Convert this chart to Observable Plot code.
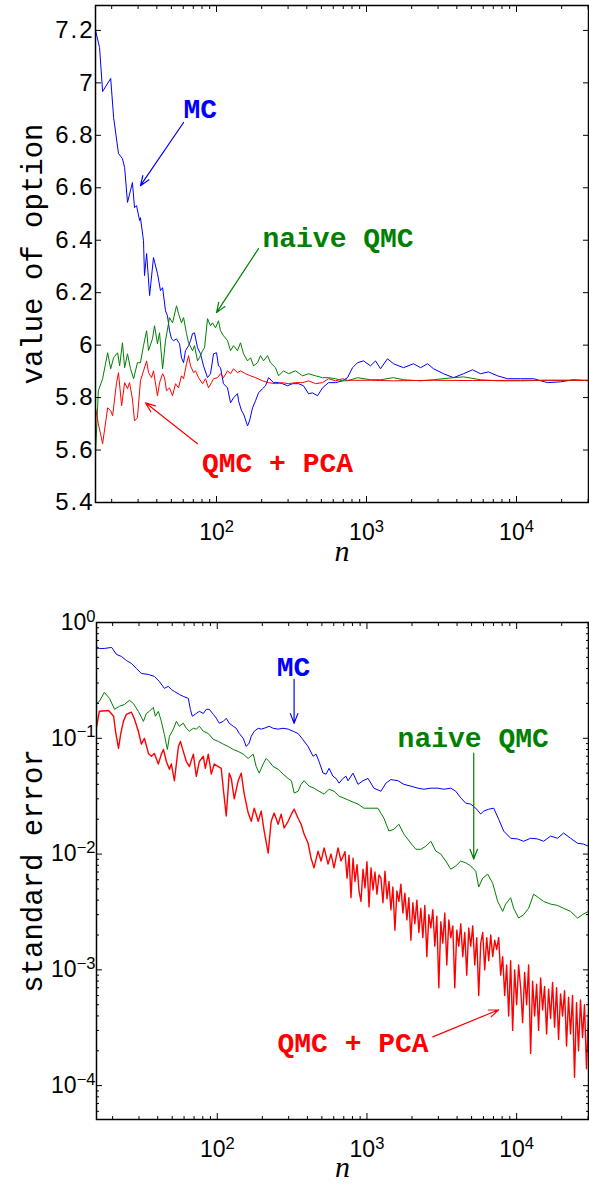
<!DOCTYPE html>
<html><head><meta charset="utf-8">
<script src="https://cdn.jsdelivr.net/npm/d3@7"></script>
<script src="https://cdn.jsdelivr.net/npm/@observablehq/plot@0.6"></script>
<style>
body{margin:0;background:#fff}
#chart{width:589px}
#chart svg{display:block}
</style>
</head><body><div id="chart"></div>
<script>
// ---------- top panel: value of option ----------
const nMcTop = [15.6,16.6,17.4,19.7,20.6,22.2,23.6,24.4,25.5,27.5,28.4,29.3,30.7,31.1,32.6,33.1,34.2,35.8,38.0,40.4,42.3,43.7,45.7,47.1,48.6,50.1,51.7,54.1,56.7,58.4,60.3,62.1,65.1,67.1,69.2,71.3,74.7,78.2,81.9,87.1,91.2,95.5,100,103.1,106.3,111.3,118.4,124.0,129.8,138.0,140.2,146.8,151.4,161.0,166.0,173.8,182.0,190.5,202.6,212.2,222.2,239.9,259.1,275.4,297.4,321.1,352.1,380.2,410.6,436.5,471.4,509.1,558.1,621.5,691.8,746.8,806.9,871,955,1063,1148,1240,1380,1514,1765,2057,2291,2551,2797,3262,3802,4433,5090,5754,6507,7471,8710,10634,12983,16098,19650,23988,30200];
const vMcTop = [7.2,7.135,6.967,7.017,6.868,6.731,6.711,6.677,6.544,6.620,6.524,6.532,6.475,6.486,6.398,6.265,6.349,6.189,6.334,6.273,6.208,6.219,6.131,6.112,6.055,6.024,6.017,6.024,6.005,5.952,5.933,5.979,5.998,6.017,6.044,6.047,5.990,5.967,5.921,5.876,5.891,5.967,5.971,5.921,5.914,5.853,5.837,5.780,5.799,5.815,5.788,5.750,5.738,5.692,5.711,5.761,5.788,5.818,5.834,5.845,5.876,5.857,5.857,5.853,5.845,5.853,5.853,5.845,5.815,5.818,5.807,5.837,5.857,5.857,5.864,5.876,5.914,5.933,5.940,5.921,5.940,5.910,5.948,5.929,5.914,5.929,5.914,5.929,5.910,5.891,5.876,5.891,5.906,5.891,5.898,5.883,5.872,5.872,5.872,5.857,5.860,5.868,5.864];

const nQmcTop = [15.6,16.3,17.4,18.8,19.7,20.6,21.9,22.6,23.6,24.4,25.5,26.7,28.0,29.7,31.1,32.6,34.2,35.2,37.4,38.6,40.4,41.7,43.7,45.7,48.6,50.9,54.1,55.8,58.4,60.3,63.1,65.1,69.2,71.3,74.7,77.0,80.7,83.2,87.1,91.2,94.0,98.5,103.1,106.3,111.3,118.4,124.0,129.8,138.0,144.5,151.4,161.0,168.6,176.6,187.7,196.5,205.8,218.8,229.1,247.4,259.1,279.7,302.0,336.3,374.5,410.6,457.1,509.1,558.1,621.5,691.8,746.8,871,1063,1240,1514,1765,2291,2797,3802,4433,5754,7471,10634,16098,30200];
const vQmcTop = [5.585,5.826,5.872,5.971,5.910,5.952,5.971,5.921,6.009,5.914,5.967,5.910,5.872,5.933,5.933,5.998,6.055,5.979,6.024,6.074,6.005,6.047,5.910,6.017,6.105,6.085,6.150,6.120,6.085,6.105,6.044,6.009,5.979,5.998,5.940,5.952,5.979,5.990,6.101,6.074,6.085,6.066,6.093,6.055,6.036,6.017,5.979,5.998,5.979,6.009,5.967,5.940,5.952,5.921,5.933,5.960,5.940,5.960,5.933,5.914,5.883,5.902,5.891,5.902,5.883,5.891,5.883,5.876,5.876,5.872,5.864,5.864,5.876,5.868,5.868,5.876,5.868,5.864,5.868,5.876,5.879,5.868,5.864,5.864,5.866,5.866];

const nPcaTop = [15.6,16.3,17.4,18.8,19.7,20.3,21.5,22.2,23.3,24.4,25.5,26.3,27.5,28.4,29.7,31.1,32.6,34.2,35.2,36.9,38.0,40.4,41.7,43.7,45.0,46.4,48.6,50.9,53.3,55.8,58.4,60.3,63.1,65.1,67.1,70.3,72.4,75.9,80.7,84.5,88.4,92.6,95.5,101.6,106.3,111.3,118.4,124.0,129.8,138.0,144.5,156.1,168.6,182.0,202.6,222.2,247.4,275.4,302.0,336.3,374.5,410.6,457.1,509.1,558.1,621.5,691.8,746.8,1063,1514,2797,5090,10634,30200];
const vPcaTop = [5.761,5.700,5.624,5.761,5.750,5.731,5.853,5.895,5.769,5.857,5.834,5.857,5.795,5.711,5.723,5.864,5.902,5.940,5.895,5.876,5.902,5.807,5.857,5.891,5.876,5.826,5.837,5.807,5.853,5.837,5.883,5.872,5.929,5.960,5.921,5.895,5.902,5.876,5.853,5.872,5.837,5.857,5.872,5.876,5.891,5.876,5.902,5.891,5.910,5.895,5.902,5.891,5.883,5.876,5.864,5.857,5.853,5.857,5.853,5.857,5.857,5.864,5.853,5.857,5.872,5.864,5.872,5.866,5.866,5.864,5.866,5.865,5.866,5.866];

// ---------- bottom panel: standard error ----------
const nMcBot = [15.6,16.3,17.6,19.7,21.2,22.9,24.7,26.7,28.8,31.1,34.7,38.0,41.0,44.3,47.1,49.3,51.7,55.8,59.3,64.1,66.1,68.1,72.4,75.9,80.7,84.5,88.4,94.0,98.5,103.1,109.6,114.8,120.2,127.9,133.9,140.2,149.0,156.1,163.4,168.6,176.6,187.7,196.5,205.8,222.2,236.2,255.0,275.4,297.4,321.1,346.7,372,404.3,436.5,457.1,478.6,509.1,533,558.1,593,621.5,651,691.8,724,747,807,871,940,1016,1114,1240,1339,1445,1610,1765,1965,2188,2399,2672,2974,3262,3631,3920,4233,4571,4934,5330,5754,6026,6500,7028,7586,8192,9120,10155,11134,12397,13804,15136,16860,18770,20580,22910,25510,27970,30200];
const seMcBot = [0.621,0.597,0.597,0.609,0.530,0.509,0.470,0.443,0.401,0.363,0.356,0.342,0.310,0.270,0.281,0.264,0.254,0.239,0.230,0.221,0.178,0.155,0.164,0.171,0.164,0.178,0.178,0.161,0.149,0.135,0.140,0.149,0.135,0.127,0.122,0.110,0.100,0.085,0.091,0.104,0.115,0.122,0.120,0.122,0.127,0.122,0.120,0.122,0.120,0.115,0.110,0.098,0.085,0.070,0.073,0.063,0.050,0.049,0.055,0.047,0.045,0.041,0.045,0.047,0.043,0.050,0.040,0.043,0.045,0.037,0.0349,0.041,0.044,0.043,0.040,0.0386,0.0371,0.0363,0.0371,0.0371,0.0363,0.0371,0.0349,0.0306,0.0275,0.0270,0.0249,0.0222,0.0235,0.0244,0.0249,0.0200,0.0158,0.0137,0.0135,0.0129,0.0137,0.0135,0.0129,0.0143,0.0137,0.0152,0.0137,0.0124,0.0122,0.0117];

const nQmcBot = [15.6,16.3,17.6,19.05,20.6,22.2,24.0,25.9,27.5,29.7,32.1,33.6,35.2,37.4,38.6,40.4,42.3,44.3,46.4,47.9,50.9,53.3,55.8,59.3,62.1,65.1,69.2,72.4,75.9,80.7,87.1,94.0,101.6,109.6,118.4,127.9,138.0,149.0,161.0,173.8,182.0,190.5,202.6,212.2,222.2,236.2,255.0,275.4,297.4,312.6,326.6,346.7,363.1,380.2,410.6,442.6,478.6,517.6,558.1,602.6,651.3,702.5,782,871,955,1063,1183,1298,1402,1514,1634,1765,1965,2122,2291,2474,2672,2884,3114,3362,3631,3920,4233,4571,4934,5330,5580,5934,6408,6918,7471,8069,8446,9120,9550,10311,11134,12023,12983,14020,15136,16860,18770,20580,22910,25510,27542,30200];
const seQmcBot = [0.200,0.208,0.249,0.221,0.178,0.189,0.196,0.213,0.200,0.171,0.140,0.164,0.171,0.185,0.155,0.171,0.140,0.108,0.080,0.104,0.120,0.140,0.127,0.135,0.122,0.115,0.122,0.120,0.127,0.115,0.110,0.098,0.094,0.089,0.085,0.080,0.077,0.073,0.067,0.073,0.057,0.050,0.060,0.067,0.063,0.057,0.054,0.049,0.045,0.043,0.0336,0.0349,0.040,0.043,0.0386,0.0371,0.0349,0.0329,0.0363,0.0349,0.0316,0.0304,0.0286,0.0270,0.0249,0.0249,0.0249,0.0204,0.0158,0.0164,0.0181,0.0149,0.0124,0.0110,0.0110,0.0117,0.0129,0.0106,0.0100,0.0087,0.0074,0.0079,0.0087,0.0084,0.0079,0.0071,0.0052,0.0062,0.0067,0.0056,0.0039,0.0032,0.0037,0.0042,0.0034,0.0028,0.0030,0.0034,0.0045,0.0042,0.0039,0.0037,0.0036,0.0034,0.0032,0.0028,0.0030,0.0032];

const nPcaBotA = [15.6,16.3,18.8,20.3,20.9,21.9,22.6,23.6,24.7,26.7,28.0,29.7,31.1,32.6,34.7,36.3,38.0,40.4,42.3,43.7,45.7,47.9,49.3,51.7,55.0,56.7,59.3,62.1,65.1,69.2,72.4,75.9,80.7,83.2,87.1,91.2,95.5,101.6,106.3,109.6,114.8,120.2,124.0,129.8,138.0,144.5,151.4,161.0,168.6,176.6,187.7,196.5,205.8,218.8,229.1,239.9,255.0,267.1,279.7,297.4,312.6,326.6,346.7,363.1,380.2,404.3,423.2,442.6,471.4,493.4,517.6,549.5,575.4,602.6,640.9,671.0,702.5];
const sePcaBotA = [0.124,0.171,0.174,0.155,0.115,0.082,0.108,0.140,0.161,0.168,0.146,0.115,0.089,0.100,0.074,0.070,0.074,0.060,0.073,0.080,0.063,0.054,0.060,0.043,0.085,0.094,0.077,0.063,0.057,0.073,0.047,0.063,0.070,0.055,0.073,0.049,0.060,0.057,0.055,0.037,0.0213,0.050,0.045,0.030,0.043,0.050,0.0329,0.0226,0.0192,0.0249,0.0192,0.0235,0.0158,0.0102,0.0192,0.0226,0.0181,0.0221,0.0168,0.0192,0.0221,0.0244,0.0204,0.0181,0.0149,0.0124,0.0092,0.0076,0.0106,0.0087,0.0113,0.0082,0.0100,0.0076,0.0113,0.0087,0.0100];
const nPcaBotB = [713,736,759,782,807,832,858,885,912,941,970,1000,1032,1064,1097,1131,1166,1203,1240,1279,1319,1361,1403,1445,1490,1537,1585,1634,1685,1738,1792,1848,1905,1965,2026,2089,2155,2222,2291,2363,2436,2512,2591,2672,2754,2840,2929,3020,3114,3211,3311,3415,3522,3631,3745,3861,3981,4105,4233,4365,4502,4642,4786,4934,5088,5248,5411,5580,5754,5934,6119,6310,6507,6710,6918,7134,7356,7586,7822,8066,8318,8577,8845,9120,9404,9698,10000,10312,10634,10965,11307,11659,12023,12397,12784,13183,13594,14018,14454,14905,15370,15849,16343,16853,17378,17920,18478,19055,19649,20261,20893,21544,22216,22909,23623,24360,25119,25902,26710,27542,28401,29286,30200];
const sePcaBotB = [0.0105,0.0062,0.0098,0.0042,0.0092,0.0058,0.0081,0.0048,0.0039,0.0074,0.0051,0.0086,0.0035,0.0076,0.0049,0.0070,0.0045,0.0066,0.0062,0.0038,0.0071,0.0041,0.0058,0.0033,0.0052,0.0022,0.0048,0.0039,0.0055,
0.0031,0.0046,0.0027,0.0042,0.0018,0.0038,0.0025,0.0040,0.0021,0.0034,0.0019,0.0036,0.0013,0.0030,0.0023,0.0033,0.0016,0.0029,0.0007,0.0026,0.0017,0.0031,0.0011,0.0027,0.0019,0.0024,0.0007,0.0022,0.0016,0.0025,0.0013,0.0021,0.0009,0.0023,0.0016,0.0024,0.0011,0.0019,0.0006,0.0017,0.0021,0.0010,0.0019,0.0012,0.0020,0.0013,0.0018,0.0015,0.0019,0.0009,
0.0013,0.0006,0.0011,0.0004,0.0012,0.0003,0.0010,0.0005,0.0011,0.0007,0.00035,0.00095,0.0005,0.0011,0.00019,
0.0008,0.0004,0.00075,0.0003,0.00085,0.00045,0.00072,0.00028,0.00068,0.00038,0.00078,0.00032,0.0007,0.00025,0.00062,0.0004,0.00066,0.00022,0.00058,0.00028,0.0006,0.000118,0.00052,0.0002,0.00055,0.00026,0.0005,0.00014,0.00042];

// ---------- ticks ----------
const xMajor = [100, 1000, 10000];
const xMinor = [20,30,40,50,60,70,80,90,200,300,400,500,600,700,800,900,2000,3000,4000,5000,6000,7000,8000,9000,20000,30000];
const yTicksTop = [5.4,5.6,5.8,6,6.2,6.4,6.6,6.8,7,7.2];
const yMajorBot = [1e-4,1e-3,1e-2,1e-1,1];
const yMinorBot = [6e-5,7e-5,8e-5,9e-5,2e-4,3e-4,4e-4,5e-4,6e-4,7e-4,8e-4,9e-4,2e-3,3e-3,4e-3,5e-3,6e-3,7e-3,8e-3,9e-3,2e-2,3e-2,4e-2,5e-2,6e-2,7e-2,8e-2,9e-2,0.2,0.3,0.4,0.5,0.6,0.7,0.8,0.9];

// ---------- annotations ----------
const annLabels = ["MC", "naive QMC", "QMC + PCA"];
const annColors = ["#0000ff", "#008000", "#ff0000"];
const annTopN = [78, 646, 255];
const annTopV = [6.902, 6.41, 5.551];
const arrTopN1 = [60.3, 190.5, 74.7], arrTopV1 = [6.849, 6.368, 5.624];
const arrTopN2 = [31.1, 100, 33.6],  arrTopV2 = [6.608, 6.124, 5.78];
const annBotN = [323.6, 5128, 807];
const annBotSe = [0.409, 0.1, 0.000235];
const arrBotN1 = [326, 5168, 2754], arrBotSe1 = [0.323, 0.0743, 0.000264];
const arrBotN2 = [326, 5168, 7586], arrBotSe2 = [0.1346, 0.00906, 0.000452];

const zip = (ns, vs) => ns.map((n, i) => ({n, v: vs[i]}));
const mcTop = zip(nMcTop, vMcTop), qmcTop = zip(nQmcTop, vQmcTop), pcaTop = zip(nPcaTop, vPcaTop);
const mcBot = zip(nMcBot, seMcBot), qmcBot = zip(nQmcBot, seQmcBot);
const pcaBot = zip(nPcaBotA.concat(nPcaBotB), sePcaBotA.concat(sePcaBotB));
const annTop = annLabels.map((t, i) => ({t, c: annColors[i], n: annTopN[i], v: annTopV[i], n1: arrTopN1[i], v1: arrTopV1[i], n2: arrTopN2[i], v2: arrTopV2[i]}));
const annBot = annLabels.map((t, i) => ({t, c: annColors[i], n: annBotN[i], v: annBotSe[i], n1: arrBotN1[i], v1: arrBotSe1[i], n2: arrBotN2[i], v2: arrBotSe2[i]}));

const COL = {mc: "#0000ff", qmc: "#008000", pca: "#ff0000"};
const SANS = "'Liberation Sans', Arial, Helvetica, sans-serif";
const MONO = "'Liberation Mono', 'DejaVu Sans Mono', monospace";
const SERIF = "'Liberation Serif', 'DejaVu Serif', serif";
const logFmt = d => "10^" + String(Math.round(Math.log10(d))).replace("-", "\u2212");

function annotations(ann) {
  const out = [];
  ann.forEach(a => {
    out.push(Plot.arrow([a], {x1: "n1", y1: "v1", x2: "n2", y2: "v2", stroke: a.c, strokeWidth: 1.2, headLength: 13, headAngle: 42}));
    out.push(Plot.text([a], {x: "n", y: "v", text: "t", fill: a.c, fontFamily: MONO, fontWeight: "bold", fontSize: 28}));
  });
  return out;
}

function xAxes() {
  return [
    Plot.axisX({ticks: xMajor, anchor: "bottom", tickSize: -6, tickFormat: () => "", label: null}),
    Plot.axisX({ticks: xMinor, anchor: "bottom", tickSize: -3, tickFormat: () => "", label: null}),
    Plot.axisX({ticks: xMajor, anchor: "top", tickSize: -6, tickFormat: () => "", label: null}),
    Plot.axisX({ticks: xMinor, anchor: "top", tickSize: -3, tickFormat: () => "", label: null}),
    Plot.axisX({ticks: xMajor, anchor: "bottom", tickSize: 0, tickPadding: 21, tickFormat: logFmt, label: null, fontSize: 23, fontFamily: SANS})
  ];
}

const topPlot = Plot.plot({
  width: 589, height: 575,
  marginTop: 5, marginBottom: 73, marginLeft: 95, marginRight: 1,
  style: {fontFamily: SANS, fontSize: "22px", color: "black", background: "white", overflow: "visible"},
  x: {type: "log", domain: [15.6, 30200], label: null},
  y: {domain: [5.4, 7.295], label: null},
  marks: [
    Plot.line(mcTop, {x: "n", y: "v", stroke: COL.mc, strokeWidth: 1, clip: true}),
    Plot.line(qmcTop, {x: "n", y: "v", stroke: COL.qmc, strokeWidth: 1, clip: true}),
    Plot.line(pcaTop, {x: "n", y: "v", stroke: COL.pca, strokeWidth: 1, clip: true}),
    ...annotations(annTop),
    Plot.frame({stroke: "black", strokeWidth: 1.5}),
    ...xAxes(),
    Plot.axisY({ticks: yTicksTop, anchor: "left", tickSize: -6, tickFormat: () => "", label: null}),
    Plot.axisY({ticks: yTicksTop, anchor: "right", tickSize: -6, tickFormat: () => "", label: null}),
    Plot.axisY({ticks: yTicksTop, anchor: "left", tickSize: 0, tickPadding: 1, tickFormat: d => String(d), label: null, fontSize: 24, fontFamily: SANS, className: "ytop"}),
    Plot.text(["value of option"], {frameAnchor: "left", textAnchor: "middle", dx: -63, rotate: -90, fontFamily: MONO, fontSize: 29}),
    Plot.text(["n"], {frameAnchor: "bottom", dy: 58, fontFamily: SERIF, fontStyle: "italic", fontSize: 30})
  ]
});

const botPlot = Plot.plot({
  width: 589, height: 615,
  marginTop: 47, marginBottom: 71, marginLeft: 96, marginRight: 1,
  style: {fontFamily: SANS, fontSize: "22px", color: "black", background: "white", overflow: "visible"},
  x: {type: "log", domain: [15.6, 30200], label: null},
  y: {type: "log", domain: [5.1e-5, 1], label: null},
  marks: [
    Plot.line(mcBot, {x: "n", y: "v", stroke: COL.mc, strokeWidth: 1, clip: true}),
    Plot.line(qmcBot, {x: "n", y: "v", stroke: COL.qmc, strokeWidth: 1, clip: true}),
    Plot.line(pcaBot, {x: "n", y: "v", stroke: COL.pca, strokeWidth: 1.4, clip: true}),
    ...annotations(annBot),
    Plot.frame({stroke: "black", strokeWidth: 1.5}),
    ...xAxes(),
    Plot.axisY({ticks: yMajorBot, anchor: "left", tickSize: -6, tickFormat: () => "", label: null}),
    Plot.axisY({ticks: yMinorBot, anchor: "left", tickSize: -3, tickFormat: () => "", label: null}),
    Plot.axisY({ticks: yMajorBot, anchor: "right", tickSize: -6, tickFormat: () => "", label: null}),
    Plot.axisY({ticks: yMinorBot, anchor: "right", tickSize: -3, tickFormat: () => "", label: null}),
    Plot.axisY({ticks: yMajorBot, anchor: "left", tickSize: 0, tickPadding: 1, tickFormat: logFmt, label: null, fontSize: 23, fontFamily: SANS}),
    Plot.text(["standard error"], {frameAnchor: "left", textAnchor: "middle", dx: -64, rotate: -90, fontFamily: MONO, fontSize: 29}),
    Plot.text(["n"], {frameAnchor: "bottom", dy: 57, fontFamily: SERIF, fontStyle: "italic", fontSize: 30})
  ]
});

const NS = "http://www.w3.org/2000/svg";
function supFix(svg) {
  svg.querySelectorAll("text").forEach(t => {
    const m = /^10\^(.+)$/.exec(t.textContent);
    if (!m) return;
    t.textContent = "";
    const a = document.createElementNS(NS, "tspan"); a.textContent = "10";
    const b = document.createElementNS(NS, "tspan");
    b.setAttribute("dy", "-0.5em"); b.setAttribute("font-size", "0.72em"); b.textContent = m[1];
    t.append(a, b);
  });
}
supFix(topPlot); supFix(botPlot);
topPlot.querySelectorAll(".ytop text").forEach(t => t.setAttribute("letter-spacing", "2"));

document.getElementById("chart").append(topPlot, botPlot);
</script>
</body></html>
